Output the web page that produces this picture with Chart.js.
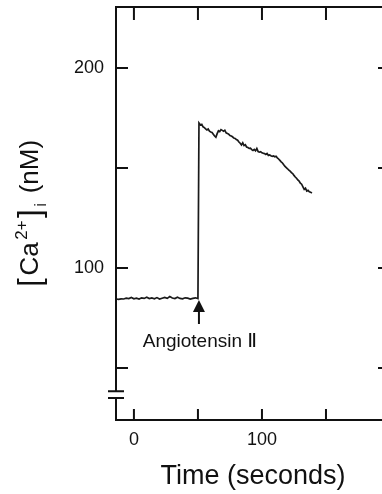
<!DOCTYPE html>
<html lang="en">
<head>
  <meta charset="UTF-8">
  <title>Angiotensin II calcium response</title>
  <script src="https://cdn.jsdelivr.net/npm/chart.js"></script>
  <style>
    html, body {
      margin: 0;
      padding: 0;
      background: #ffffff;
      overflow: hidden;
    }
    .chart-box {
      width: 392px;
      height: 494px;
    }
  </style>
</head>
<body>

<div class="chart-box">
  <canvas id="caChart" width="392" height="494"></canvas>
</div>

<script>
  // trace: time (s) and [Ca2+]i (nM)
  const timeSec = [
    -14, -12, -10, -8, -6, -4, -2, 0, 2, 4, 6, 8, 10, 12, 14, 16, 18, 20, 22, 24,
    26, 28, 30, 32, 34, 36, 38, 40, 42, 44, 46, 48, 50,
    50.8, 52, 53, 54, 55, 56, 57, 58, 59, 60, 61, 62, 63, 64, 65, 66, 67, 68, 69, 70,
    71, 72, 73, 74, 75, 76, 77, 78, 79, 80, 81, 82, 83, 84, 85, 86, 87, 88, 89, 90,
    91, 92, 93, 94, 95, 96, 97, 98, 99, 100, 101, 102, 103, 104, 105, 106, 107, 108, 109, 110,
    111, 112, 113, 114, 115, 116, 117, 118, 119, 120, 121, 122, 123, 124, 125, 126, 127, 128, 129, 130,
    131, 132, 133, 134, 135, 136, 137, 138, 139
  ];
  const caNM = [
    84.5, 84.3, 84.6, 84.5, 84.9, 84.7, 85.3, 84.6, 84.9, 84.5, 85.1, 84.8, 85.4, 84.7, 85.0, 84.6, 85.2, 84.5, 84.9, 85.3,
    84.8, 85.7, 85.0, 84.7, 85.4, 84.8, 84.6, 85.1, 84.9, 84.5, 84.8, 85.1, 84.7,
    172.5, 171.5, 171.8, 170.6, 170.2, 169.6, 169.0, 169.5, 168.4, 168.0, 167.8, 166.9, 166.0, 165.4, 167.2, 168.6, 168.2, 169.2, 168.8, 168.4,
    168.9, 167.6, 167.3, 166.9, 166.2, 166.0, 165.6, 165.0, 164.8, 164.2, 163.9, 163.0, 162.4, 161.5, 162.6, 161.2, 161.6, 160.5, 160.2, 159.8,
    159.9, 159.2, 158.8, 159.3, 158.6, 159.8, 158.2, 157.9, 158.1, 157.6, 157.4, 157.2, 156.8, 157.3, 156.3, 156.5, 156.1, 155.8, 156.0, 155.6,
    155.9, 155.1, 154.5, 153.8, 153.1, 152.5, 151.6, 150.8, 150.2, 149.6, 148.9, 148.4, 147.7, 147.2, 146.3, 145.5, 144.9, 144.0, 143.5, 142.4,
    141.9, 140.6, 139.3, 139.9, 138.5, 138.8, 138.1, 137.9, 137.4
  ];

  // axes
  const xRange = [-14, 200];
  const yRange = [24, 230.5];
  const xTickValues = [0, 50, 100, 150, 200];
  const xTickLabels = ['0', '', '100', '', ''];
  const yTickValues = [50, 100, 150, 200];
  const yTickLabels = ['', '100', '', '200'];
  const yAxisBreak = [38.4, 35.0];   // the "=" on the left axis

  // stimulus marker
  const stimulusTime = [50];
  const stimulusLabel = ['Angiotensin ', '\u2161'];

  const FONT = "'Liberation Sans', 'DejaVu Sans', Arial, sans-serif";

  // kill the auto label padding so the plot box sits where the figure has it
  function noPad(s) {
    s.paddingTop = 0;
    s.paddingBottom = 0;
    s.paddingLeft = 0;
    s.paddingRight = 0;
  }

  // frame, inward ticks, axis break, arrow and y title
  const framePlugin = {
    id: 'frame',
    afterDraw(chart) {
      const ctx = chart.ctx;
      const a = chart.chartArea;
      const xs = chart.scales.x;
      const ys = chart.scales.y;
      ctx.save();
      ctx.strokeStyle = '#111';
      ctx.fillStyle = '#111';
      ctx.lineWidth = 2;
      ctx.lineCap = 'butt';

      const b1 = ys.getPixelForValue(yAxisBreak[0]);
      const b2 = ys.getPixelForValue(yAxisBreak[1]);

      ctx.beginPath();
      // top + right + bottom
      ctx.moveTo(a.left - 1, a.top);
      ctx.lineTo(a.right, a.top);
      ctx.lineTo(a.right, a.bottom);
      ctx.lineTo(a.left - 1, a.bottom);
      // left axis with break
      ctx.moveTo(a.left, a.top);
      ctx.lineTo(a.left, b1);
      ctx.moveTo(a.left - 8, b1);
      ctx.lineTo(a.left + 8, b1);
      ctx.moveTo(a.left - 8, b2);
      ctx.lineTo(a.left + 8, b2);
      ctx.moveTo(a.left, b2);
      ctx.lineTo(a.left, a.bottom);

      // inward ticks
      yTickValues.forEach(v => {
        const py = ys.getPixelForValue(v);
        ctx.moveTo(a.left, py);
        ctx.lineTo(a.left + 12, py);
        ctx.moveTo(a.right, py);
        ctx.lineTo(a.right - 12, py);
      });
      xTickValues.forEach(v => {
        const px = xs.getPixelForValue(v);
        ctx.moveTo(px, a.top);
        ctx.lineTo(px, a.top + 13);
        ctx.moveTo(px, a.bottom);
        ctx.lineTo(px, a.bottom - 11);
      });
      ctx.stroke();

      // arrow + label under the jump
      const ax = xs.getPixelForValue(stimulusTime[0]) + 1;
      const tip = ys.getPixelForValue(84);
      ctx.beginPath();
      ctx.moveTo(ax, tip);
      ctx.lineTo(ax - 6, tip + 12);
      ctx.lineTo(ax + 6, tip + 12);
      ctx.closePath();
      ctx.fill();
      ctx.beginPath();
      ctx.moveTo(ax, tip + 10);
      ctx.lineTo(ax, tip + 24);
      ctx.stroke();

      // word in sans, roman numeral from DejaVu (it has the barred glyph)
      const wordFont = '19px ' + FONT;
      const numFont = "20px 'DejaVu Sans', sans-serif";
      ctx.font = wordFont;
      const w1 = ctx.measureText(stimulusLabel[0]).width;
      ctx.font = numFont;
      const w2 = ctx.measureText(stimulusLabel[1]).width;
      let lx = ax + 1 - (w1 + w2) / 2;
      ctx.textAlign = 'left';
      ctx.textBaseline = 'alphabetic';
      ctx.font = wordFont;
      ctx.fillText(stimulusLabel[0], lx, tip + 47);
      ctx.font = numFont;
      ctx.fillText(stimulusLabel[1], lx + w1, tip + 47);

      // y title  [Ca2+]i (nM), rotated
      const parts = [
        { t: '[', f: '31px ' + FONT, dy: 2 },
        { t: 'Ca', f: '26px ' + FONT, dy: 0 },
        { t: '2+', f: '17px ' + FONT, dy: -11 },
        { t: ']', f: '31px ' + FONT, dy: 2 },
        { t: 'i', f: '17px ' + FONT, dy: 8 },
        { t: ' (nM)', f: '26px ' + FONT, dy: 0 }
      ];
      ctx.translate(38, 212);
      ctx.rotate(-Math.PI / 2);
      let total = 0;
      parts.forEach(p => {
        ctx.font = p.f;
        p.w = ctx.measureText(p.t).width + 2.5;
        total += p.w;
      });
      let cx = -total / 2;
      parts.forEach(p => {
        ctx.font = p.f;
        ctx.fillText(p.t, cx, p.dy);
        cx += p.w;
      });
      ctx.restore();
    }
  };

  const points = timeSec.map((t, i) => ({ x: t, y: caNM[i] }));

  const ctx = document.getElementById('caChart').getContext('2d');
  const caChart = new Chart(ctx, {
    type: 'line',
    data: {
      datasets: [{
        data: points,
        borderColor: '#1a1a1a',
        borderWidth: 1.7,
        pointRadius: 0,
        tension: 0,
        fill: false
      }]
    },
    options: {
      responsive: false,
      animation: false,
      layout: {
        padding: { top: 7, right: 2, left: 0, bottom: 0 }
      },
      plugins: {
        legend: { display: false },
        tooltip: { enabled: false }
      },
      scales: {
        x: {
          type: 'linear',
          min: xRange[0],
          max: xRange[1],
          afterBuildTicks: s => { s.ticks = xTickValues.map(v => ({ value: v })); },
          afterFit: s => { s.height = 74; noPad(s); },
          grid: { display: false, drawTicks: false },
          border: { display: false },
          ticks: {
            color: '#111',
            padding: 9,
            maxRotation: 0,
            font: { family: FONT, size: 18 },
            callback: v => xTickLabels[xTickValues.indexOf(v)] ?? ''
          },
          title: {
            display: true,
            text: 'Time (seconds)',
            color: '#111',
            font: { family: FONT, size: 27 },
            padding: { top: 0, bottom: 1 }
          }
        },
        y: {
          min: yRange[0],
          max: yRange[1],
          afterBuildTicks: s => { s.ticks = yTickValues.map(v => ({ value: v })); },
          afterFit: s => { s.width = 116; noPad(s); },
          grid: { display: false, drawTicks: false },
          border: { display: false },
          ticks: {
            color: '#111',
            padding: 12,
            font: { family: FONT, size: 18 },
            callback: v => yTickLabels[yTickValues.indexOf(v)] ?? ''
          }
        }
      }
    },
    plugins: [framePlugin]
  });
</script>

</body>
</html>
